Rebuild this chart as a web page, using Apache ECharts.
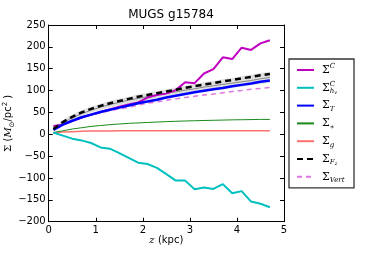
<!DOCTYPE html>
<html>
<head>
<meta charset="utf-8">
<script src="https://cdn.jsdelivr.net/npm/echarts@6/dist/echarts.min.js"></script>
<style>html,body{margin:0;padding:0;background:#fff;}#c{width:382px;height:254px;}</style>
</head>
<body>
<div id="c"></div>
<script>
var zs = [0.1,0.3,0.5,0.7,0.9,1.1,1.3,1.5,1.7,1.9,2.1,2.3,2.5,2.7,2.9,3.1,3.3,3.5,3.7,3.9,4.1,4.3,4.5,4.7];
var sigC   = [19,22,30,38,45,51,57,63,68,73,84,90,93,101,119,117,139,149,176,172,198,193,208,215];
var sigChv = [4,-3,-10,-14,-20,-30,-33,-43,-54,-65,-68,-77,-91,-106,-106,-126,-122,-125,-114,-135,-130,-154,-159,-167];
var sigT   = [10,22,31,39,45,51,56,61,66,71,75,79,84,88,92,96,99.5,103,106,110,113,116,120,123];
var sigStar= [4,8,12,15,18,20,22,23.5,25,26,27,28,29,29.7,30.4,31,31.5,32,32.5,33,33.3,33.6,34,34];
var sigG   = [3,5,6,7,7.3,7.5,7.7,7.8,7.9,8,8,8,8,8,8,8,8,8,8,8,8,8,8,8];
var sigFz  = [12,28,40,50,58,65,71,76,81,86,90,94,98,102,106,110,114,117,121,124,128,131,135,138];
var sigVert= [12,22,31,38,44,49,54,58,62,67,71,74,78,81,84,87,90,92,95,98,100,103,105,107];
var bandLo = [8,22,33,42,49,56,61,66,70,74,78,82,85,88,92,95,98,101,104,107,109,112,115,118];
var bandHi = [15,32,45,55,63,70,76,81,86,91,95,99,103,107,111,115,119,122,126,129,133,136,140,143];
var grayMid= [11,26,38,47,55,62,68,73,78,82,86,90,94,97,101,104,108,111,114,117,120,123,127,130];
var xTicks = [0,1,2,3,4,5];
var yTicks = [-200,-150,-100,-50,0,50,100,150,200,250];

function pairs(ys){ return zs.map(function(z,i){ return [z, ys[i]]; }); }

var chart = echarts.init(document.getElementById('c'), null, {renderer:'canvas'});
var font = 'DejaVu Sans';
var mathRich = {
  s:{fontFamily:'DejaVu Serif',fontSize:11,lineHeight:14,color:'#000'},
  sup:{fontFamily:'DejaVu Serif',fontStyle:'italic',fontSize:7,lineHeight:14,verticalAlign:'top',color:'#000'},
  supz:{fontFamily:'DejaVu Serif',fontStyle:'italic',fontSize:7,lineHeight:14,verticalAlign:'top',color:'#000',width:0},
  sub:{fontFamily:'DejaVu Serif',fontStyle:'italic',fontSize:7,lineHeight:14,verticalAlign:'bottom',color:'#000'},
  subsub:{fontFamily:'DejaVu Serif',fontStyle:'italic',fontSize:5,lineHeight:12,verticalAlign:'bottom',color:'#000'}
};
var legendText = {
  'ΣC':'{s|Σ}{sup|C}',
  'ΣChv':'{s|Σ}{supz|C}{sub|h}{subsub|v}',
  'ΣT':'{s|Σ}{sub|T}',
  'Σ*':'{s|Σ}{sub|∗}',
  'Σg':'{s|Σ}{sub|g}',
  'ΣFz':'{s|Σ}{sub|F}{subsub|z}',
  'ΣVert':'{s|Σ}{sub|Vert}'
};
function minus(v){ return String(v).replace('-','\u2212'); }

var axisCommon = {
  axisLine:{show:true,onZero:false,lineStyle:{color:'#000',width:1}},
  axisTick:{show:true,inside:true,length:4,lineStyle:{color:'#000'}},
  splitLine:{show:false}
};

var bandData = zs.map(function(z,i){ return [z, bandLo[i], bandHi[i]]; });

chart.setOption({
  animation:false,
  backgroundColor:'#fff',
  title:{text:'MUGS g15784',left:166,top:4,textAlign:'center',textStyle:{fontFamily:font,fontSize:12,fontWeight:'normal',color:'#000'}},
  grid:{left:48.7,right:98,top:25,bottom:32.3,containLabel:false,outerBoundsMode:'none'},
  legend:{
    orient:'vertical',left:289,top:59,padding:[4,6,4,7],itemGap:3.8,itemWidth:17,itemHeight:10,
    borderColor:'#333',borderWidth:1.3,backgroundColor:'#fff',
    itemStyle:{opacity:0},
    data:['ΣC','ΣChv','ΣT','Σ*','Σg','ΣFz','ΣVert'],
    formatter:function(n){ return legendText[n]; },
    textStyle:{rich:mathRich,lineHeight:14,padding:[0,0,0,3],width:26}
  },
  xAxis:[
    Object.assign({type:'value',min:0,max:5,interval:1,position:'bottom',
      axisLabel:{fontFamily:font,fontSize:10,color:'#000',margin:4,formatter:minus},
      name:'{i|z} {n|(kpc)}',nameLocation:'middle',nameGap:13,nameMoveOverlap:false,
      nameTextStyle:{rich:{i:{fontFamily:'DejaVu Serif',fontStyle:'italic',fontSize:10,color:'#000'},n:{fontFamily:font,fontSize:10,color:'#000'}}}
    },axisCommon),
    Object.assign({type:'value',min:0,max:5,interval:1,position:'top',axisLabel:{show:false}},axisCommon)
  ],
  yAxis:[
    Object.assign({type:'value',min:-200,max:250,interval:50,position:'left',
      axisLabel:{fontFamily:font,fontSize:10,color:'#000',margin:3,formatter:minus},
      name:'{s|Σ} {n|(}{i|M}{sub|⊙}{n|/pc}{sup|2}{n| )}',nameLocation:'middle',nameRotate:90,nameGap:33,nameMoveOverlap:false,
      nameTextStyle:{rich:{
        s:{fontFamily:'DejaVu Serif',fontSize:10,color:'#000',lineHeight:14},
        n:{fontFamily:font,fontSize:10,color:'#000',lineHeight:14},
        i:{fontFamily:'DejaVu Serif',fontStyle:'italic',fontSize:10,color:'#000',lineHeight:14},
        sub:{fontFamily:'DejaVu Sans',fontSize:7,color:'#000',verticalAlign:'bottom',lineHeight:14},
        sup:{fontFamily:font,fontSize:7,color:'#000',verticalAlign:'top',lineHeight:14}
      }}
    },axisCommon),
    Object.assign({type:'value',min:-200,max:250,interval:50,position:'right',axisLabel:{show:false}},axisCommon)
  ],
  series:[
    {name:'band',type:'custom',data:bandData,silent:true,z:1,
      renderItem:function(params, api){
        if (params.dataIndex !== 0) return null;
        var top = [], bot = [];
        for (var i=0;i<bandData.length;i++){
          top.push(api.coord([bandData[i][0], bandData[i][2]]));
          bot.unshift(api.coord([bandData[i][0], bandData[i][1]]));
        }
        return {type:'polygon',shape:{points:top.concat(bot)},style:{fill:'rgba(150,150,150,0.3)',stroke:null}};
      }},
    {name:'grayMid',type:'line',data:pairs(grayMid),symbol:'none',lineStyle:{color:'#888',width:1},silent:true,z:2},
    {name:'Σg',type:'line',data:pairs(sigG),symbol:'none',color:'#ff7070',lineStyle:{color:'#ff7070',width:1.5},z:3},
    {name:'Σ*',type:'line',data:pairs(sigStar),symbol:'none',color:'#1a8a1a',lineStyle:{color:'#1a8a1a',width:1},z:3},
    {name:'ΣChv',type:'line',data:pairs(sigChv),symbol:'none',color:'#00c0c0',lineStyle:{color:'#00c0c0',width:2},z:3},
    {name:'ΣVert',type:'line',data:pairs(sigVert),symbol:'none',color:'#dd77dd',lineStyle:{color:'#dd77dd',width:1.5,type:[5,4]},z:4},
    {name:'ΣC',type:'line',data:pairs(sigC),symbol:'none',color:'#c000c0',lineStyle:{color:'#c000c0',width:2},z:5},
    {name:'ΣT',type:'line',data:pairs(sigT),symbol:'none',color:'#0000ff',lineStyle:{color:'#0000ff',width:2.5},z:5},
    {name:'ΣFz',type:'line',data:pairs(sigFz),symbol:'none',color:'#000',lineStyle:{color:'#000',width:2.5,type:[6,4]},z:6}
  ]
});
</script>
</body>
</html>
